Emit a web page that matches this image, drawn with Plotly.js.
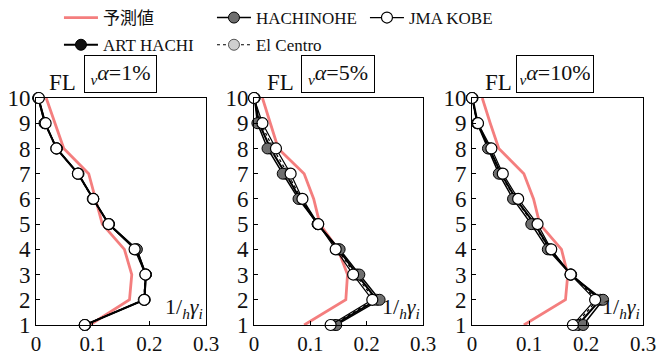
<!DOCTYPE html>
<html><head><meta charset="utf-8">
<script src="https://cdn.plot.ly/plotly-3.0.1.min.js"></script>
<style>html,body{margin:0;padding:0;background:#fff;}#chart{width:670px;height:358px;}</style>
</head><body><div id="chart"></div>
<script>
// Floors (FL)
const floors = [1,2,3,4,5,6,7,8,9,10];
const seriesNames = ['予測値','HACHINOHE','JMA KOBE','ART HACHI','El Centro'];
const panelLabels = ['<i>α</i>=1%','<i>α</i>=5%','<i>α</i>=10%'];
const xTickVals = [0,0.1,0.2,0.3];
const xTickText = ['0','0.1','0.2','0.3'];
const yTickVals = [1,2,3,4,5,6,7,8,9,10];

// Panel 1 (vα = 1%)
const pred1 = [0.095,0.165,0.169,0.156,0.117,0.105,0.093,0.049,0.033,0.018];
const hach1 = [0.086,0.192,0.194,0.178,0.129,0.101,0.075,0.037,0.015,0.004];
const kobe1 = [0.086,0.191,0.193,0.174,0.128,0.101,0.074,0.036,0.017,0.005];
const art1  = [0.087,0.191,0.194,0.177,0.128,0.101,0.074,0.036,0.016,0.004];
const elc1  = [0.086,0.190,0.193,0.176,0.128,0.100,0.074,0.036,0.016,0.005];
// Panel 2 (vα = 5%)
const pred2 = [0.089,0.163,0.166,0.149,0.117,0.106,0.089,0.043,0.029,0.015];
const hach2 = [0.146,0.223,0.187,0.152,0.113,0.079,0.051,0.024,0.006,0.001];
const kobe2 = [0.136,0.210,0.176,0.145,0.114,0.086,0.065,0.039,0.015,0.000];
const art2  = [0.142,0.218,0.183,0.150,0.113,0.082,0.056,0.029,0.009,0.001];
const elc2  = [0.139,0.214,0.180,0.148,0.114,0.084,0.060,0.034,0.012,0.000];
// Panel 3 (vα = 10%)
const pred3 = [0.091,0.164,0.168,0.157,0.119,0.108,0.091,0.047,0.032,0.018];
const hach3 = [0.195,0.230,0.173,0.133,0.104,0.072,0.047,0.028,0.009,0.000];
const kobe3 = [0.177,0.216,0.173,0.139,0.115,0.081,0.054,0.034,0.0105,0.000];
const art3  = [0.186,0.225,0.174,0.137,0.110,0.077,0.051,0.031,0.010,0.001];
const elc3  = [0.181,0.220,0.173,0.136,0.108,0.076,0.050,0.030,0.009,0.000];

const panels = [
  {pred:pred1,hach:hach1,kobe:kobe1,art:art1,elc:elc1},
  {pred:pred2,hach:hach2,kobe:kobe2,art:art2,elc:elc2},
  {pred:pred3,hach:hach3,kobe:kobe3,art:art3,elc:elc3}
];

const W = 670, H = 358;
const serif = 'Liberation Serif';
const serifCJK = 'Liberation Serif, Noto Sans CJK JP';
const xPix = [[36,206],[254,423],[472,643]];
const yPix = [98,325];
const boxPix = [[84,157],[301,375],[516,594]];

const RED = '#f47e7e';
const traces = [];
panels.forEach((p,i)=>{
  const xa = i===0 ? 'x' : 'x'+(i+1);
  const ya = i===0 ? 'y' : 'y'+(i+1);
  const show = i===0;
  const common = {xaxis:xa, yaxis:ya, y:floors, type:'scatter', cliponaxis:false, showlegend:show};
  traces.push(Object.assign({}, common, {x:p.pred, name:seriesNames[0], mode:'lines',
    line:{color:RED,width:2.8}, legend:'legend', legendrank:1}));
  traces.push(Object.assign({}, common, {x:p.art, name:seriesNames[3], mode:'lines+markers',
    line:{color:'#000',width:2}, marker:{size:11,color:'#111',line:{color:'#000',width:1}},
    legend:'legend2', legendrank:1}));
  traces.push(Object.assign({}, common, {x:p.elc, name:seriesNames[4], mode:'lines+markers',
    line:{color:'#000',width:1.2,dash:'dot'}, marker:{size:11,color:'#cfcfcf',line:{color:'#555',width:1}},
    legend:'legend2', legendrank:2}));
  traces.push(Object.assign({}, common, {x:p.hach, name:seriesNames[1], mode:'lines+markers',
    line:{color:'#000',width:1.5}, marker:{size:11,color:'#6e6e6e',line:{color:'#000',width:1}},
    legend:'legend', legendrank:2}));
  traces.push(Object.assign({}, common, {x:p.kobe, name:seriesNames[2], mode:'lines+markers',
    line:{color:'#000',width:1.2}, marker:{size:11,color:'#fff',line:{color:'#000',width:1.2}},
    legend:'legend', legendrank:3}));
});

const layout = {
  width:W, height:H,
  margin:{l:0,r:0,t:0,b:0},
  paper_bgcolor:'#fff', plot_bgcolor:'#fff',
  font:{family:serif, size:20, color:'#111'},
  legend:{orientation:'h', x:0.088, y:1.0, xanchor:'left', yanchor:'top',
    entrywidth:104, itemwidth:34, font:{size:17, family:serifCJK, color:'#111'}, bgcolor:'rgba(0,0,0,0)', tracegroupgap:0},
  legend2:{orientation:'h', x:0.088, y:0.924, xanchor:'left', yanchor:'top',
    entrywidth:104, itemwidth:34, font:{size:17, family:serifCJK, color:'#111'}, bgcolor:'rgba(0,0,0,0)', tracegroupgap:0},
  annotations:[], showlegend:true
};

xPix.forEach((xp,i)=>{
  const xk = i===0 ? 'xaxis' : 'xaxis'+(i+1);
  const yk = i===0 ? 'yaxis' : 'yaxis'+(i+1);
  const ya = i===0 ? 'y' : 'y'+(i+1);
  const xa = i===0 ? 'x' : 'x'+(i+1);
  layout[xk] = {domain:[xp[0]/W, xp[1]/W], range:[0,0.3], anchor:ya,
    tickvals:xTickVals, ticktext:xTickText, ticks:'inside', ticklen:4, tickcolor:'#000',
    showline:true, mirror:true, linecolor:'#000', linewidth:1, showgrid:false, zeroline:false,
    tickfont:{size:21, family:serif, color:'#111'}, fixedrange:true};
  layout[yk] = {domain:[1-yPix[1]/H, 1-yPix[0]/H], range:[1,10], anchor:xa,
    tickvals:yTickVals, ticks:'inside', ticklen:4, tickcolor:'#000',
    showline:true, mirror:true, linecolor:'#000', linewidth:1, showgrid:false, zeroline:false,
    tickfont:{size:23, family:serif, color:'#111'}, fixedrange:true};
  layout.annotations.push({xref:'paper', yref:'paper', x:(xp[0]+11)/W, y:1-97/H, xanchor:'left', yanchor:'bottom',
    text:'FL', showarrow:false, font:{size:23, family:serif, color:'#111'}});
  const bp = boxPix[i];
  layout.annotations.push({xref:'paper', yref:'paper', x:(bp[0]+bp[1])/2/W, y:1-74.5/H, xanchor:'center', yanchor:'middle',
    text:'<sub><i>v</i></sub>'+panelLabels[i], showarrow:false, font:{size:22, family:serif, color:'#111'},
    bordercolor:'#000', borderwidth:1, bgcolor:'#fff', borderpad:3, width:bp[1]-bp[0]-8, height:30});
  layout.annotations.push({xref:'paper', yref:'paper', x:(xp[1]-1)/W, y:1-324/H, xanchor:'right', yanchor:'bottom',
    text:'1/<sub><i>h</i></sub><i>γ</i><sub><i>i</i></sub>', showarrow:false, font:{size:22, family:serif, color:'#111'}});
});

Plotly.newPlot('chart', traces, layout, {displayModeBar:false, staticPlot:true});
</script></body></html>
